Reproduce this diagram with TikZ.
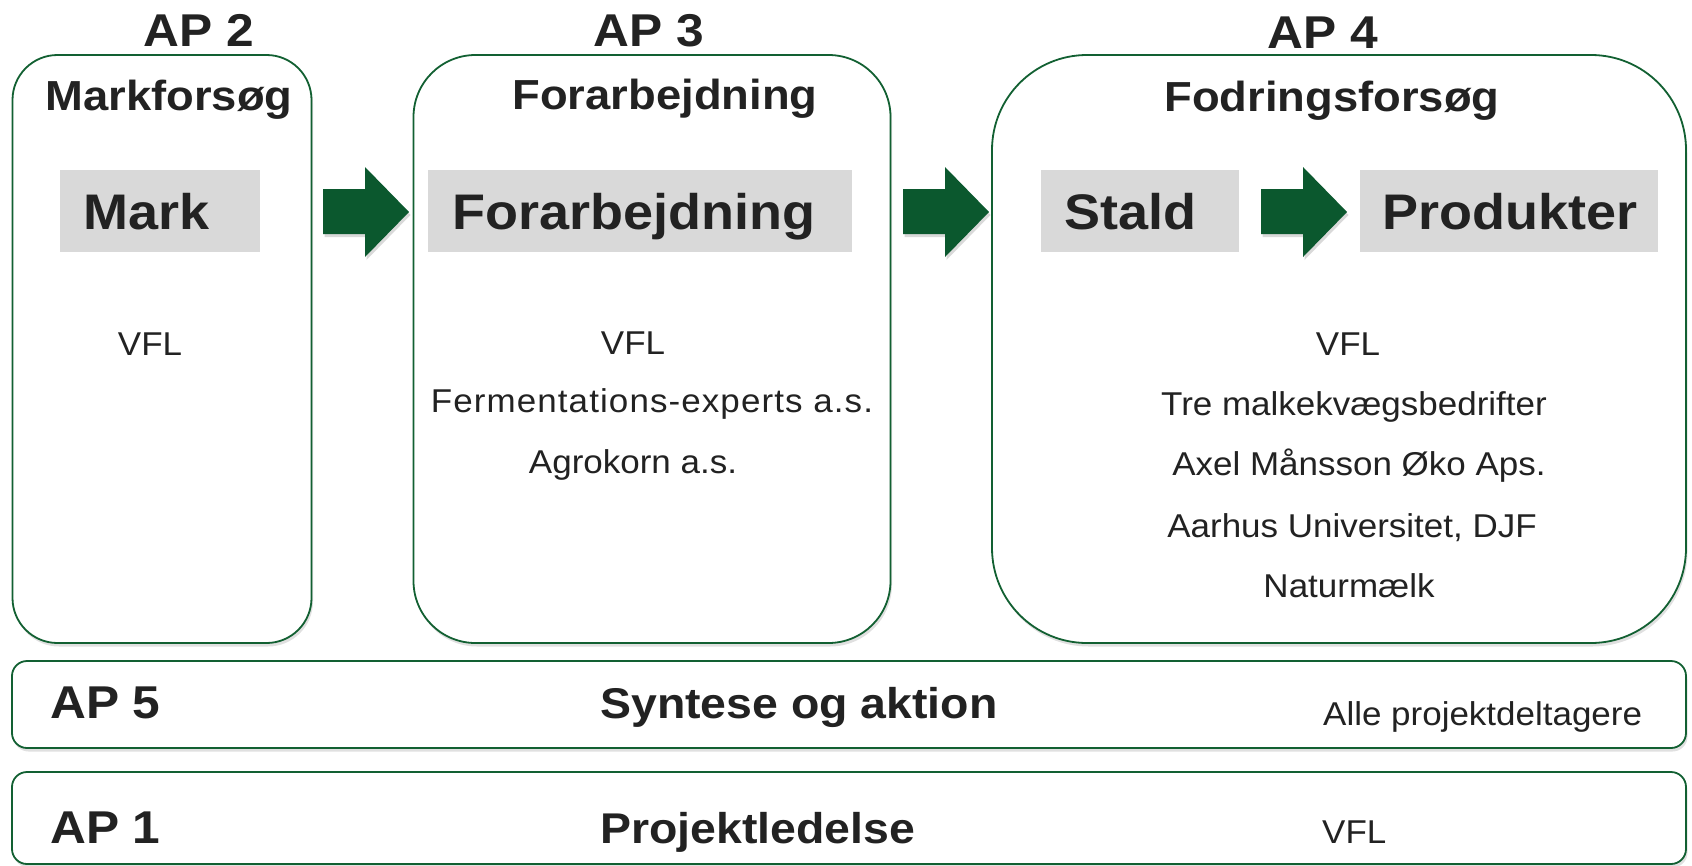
\documentclass[tikz,border=0pt]{standalone}
\usepackage{fontspec}
\setmainfont{Liberation Sans}
\newfontfamily\bfnt[FakeStretch=1.08]{Liberation Sans}
\newfontfamily\rgfnt[FakeStretch=1.06]{Liberation Sans}
\newfontfamily\rgwide[FakeStretch=1.06,LetterSpace=3.3]{Liberation Sans}
\usetikzlibrary{shadows}
\definecolor{bordergreen}{RGB}{18,96,50}
\definecolor{arrowgreen}{RGB}{11,88,46}
\definecolor{txtgray}{RGB}{34,34,34}
\definecolor{boxgray}{RGB}{217,217,217}
\tikzset{
  apbox/.style={draw=bordergreen, line width=1.8pt, fill=white, inner sep=0pt,
    drop shadow={shadow xshift=1.5pt, shadow yshift=-3.5pt, opacity=0.12, fill=black}},
  graybox/.style={fill=boxgray, inner sep=0pt, minimum width=#1, minimum height=82pt},
  aptitle/.style={text=txtgray, inner sep=0pt, font=\bfnt\bfseries\fontsize{46}{50}\selectfont},
  subtitle/.style={text=txtgray, inner sep=0pt, anchor=base, font=\bfnt\bfseries\fontsize{42}{46}\selectfont},
  bigtxt/.style={text=txtgray, inner sep=0pt, anchor=base west, font=\bfnt\bfseries\fontsize{50}{54}\selectfont},
  rowtxt/.style={text=txtgray, inner sep=0pt, anchor=base west, font=\bfnt\bfseries\fontsize{43}{47}\selectfont},
  member/.style={text=txtgray, inner sep=0pt, anchor=base, font=\rgfnt\fontsize{33}{36}\selectfont},
  blockarrow/.style={fill=arrowgreen,
    drop shadow={shadow xshift=1.5pt, shadow yshift=-3pt, opacity=0.15, fill=black}}
}
\newcommand{\blkarrow}[1]{%
  \path[blockarrow] (#1,189) -- ++(42,0) -- ++(0,-22) -- ++(44,45) -- ++(-44,45) -- ++(0,-23) -- ++(-42,0) -- cycle;}
\begin{document}
\begin{tikzpicture}[x=1pt, y=-1pt]
\useasboundingbox (0,0) rectangle (1692,865);

% main boxes
\node[apbox, rounded corners=45pt, minimum width=299pt, minimum height=588pt] (ap2) at (162,349) {};
\node[apbox, rounded corners=62pt, minimum width=477pt, minimum height=588pt] (ap3) at (652,349) {};
\node[apbox, rounded corners=95pt, minimum width=694pt, minimum height=588pt] (ap4) at (1339,349) {};
\node[apbox, rounded corners=15pt, minimum width=1674pt, minimum height=87pt] (ap5) at (849,704.5) {};
\node[apbox, rounded corners=15pt, minimum width=1674pt, minimum height=92pt] (ap1) at (849,818) {};

% titles
\node[aptitle, anchor=base] (t2) at (199,46) {AP 2};
\node[aptitle, anchor=base] (t3) at (649,46) {AP 3};
\node[aptitle, anchor=base] (t4) at (1323,48) {AP 4};

\node[subtitle] (s2) at (169,110) {Markforsøg};
\node[subtitle] (s3) at (665,109) {Forarbejdning};
\node[subtitle] (s4) at (1332,111) {Fodringsforsøg};

% gray boxes
\node[graybox=200pt] (gmark) at (160,211) {};
\node[graybox=424pt] (gforar) at (640,211) {};
\node[graybox=198pt] (gstald) at (1140,211) {};
\node[graybox=298pt] (gprod) at (1509,211) {};

\node[bigtxt] (bmark) at (83,229) {Mark};
\node[bigtxt] (bforar) at (452,229) {Forarbejdning};
\node[bigtxt] (bstald) at (1064,229) {Stald};
\node[bigtxt] (bprod) at (1382,229) {Produkter};

% block arrows
\blkarrow{323}
\blkarrow{903}
\blkarrow{1261}

% members
\node[member] (m2a) at (150,355) {VFL};
\node[member] (m3a) at (633,354) {VFL};
\node[member, font=\rgwide\fontsize{33}{36}\selectfont] (m3b) at (652,412) {Fermentations-experts a.s.};
\node[member] (m3c) at (633,473) {Agrokorn a.s.};
\node[member] (m4a) at (1348,355) {VFL};
\node[member] (m4b) at (1354,415) {Tre malkekvægsbedrifter};
\node[member] (m4c) at (1359,475) {Axel Månsson Øko Aps.};
\node[member] (m4d) at (1352,537) {Aarhus Universitet, DJF};
\node[member] (m4e) at (1349,597) {Naturmælk};

% bottom rows
\node[rowtxt, font=\bfnt\bfseries\fontsize{46}{50}\selectfont] (r5a) at (50,718) {AP 5};
\node[rowtxt] (r5b) at (600,718) {Syntese og aktion};
\node[member, anchor=base west] (r5c) at (1323,725) {Alle projektdeltagere};
\node[rowtxt, font=\bfnt\bfseries\fontsize{46}{50}\selectfont] (r1a) at (50,843) {AP 1};
\node[rowtxt] (r1b) at (600,843) {Projektledelse};
\node[member, anchor=base west] (r1c) at (1322,843) {VFL};
\end{tikzpicture}
\end{document}
